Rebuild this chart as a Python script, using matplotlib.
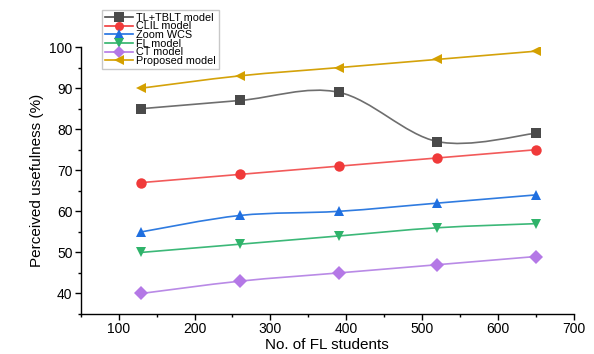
import matplotlib
matplotlib.use("Agg")
import matplotlib.pyplot as plt
from matplotlib.path import Path
from matplotlib.patches import PathPatch
from matplotlib.lines import Line2D
from matplotlib.ticker import MultipleLocator
import numpy as np

plt.rcParams["font.family"] = ["Liberation Sans", "DejaVu Sans"]

# ── data ──────────────────────────────────────────────────────────────────────
students = [130, 260, 390, 520, 650]
tl_tblt = [85, 87, 89, 77, 79]
clil = [67, 69, 71, 73, 75]
zoom_wcs = [55, 59, 60, 62, 64]
fl_model = [50, 52, 54, 56, 57]
ct_model = [40, 43, 45, 47, 49]
proposed = [90, 93, 95, 97, 99]

series = [
    ("TL+TBLT model", tl_tblt, "#4a4a4a", "#6e6e6e", "s"),
    ("CLIL model", clil, "#f03a3a", "#f25a5a", "o"),
    ("Zoom WCS", zoom_wcs, "#1f6fe0", "#2f7be0", "^"),
    ("FL model", fl_model, "#2fb36a", "#3cb878", "v"),
    ("CT model", ct_model, "#b478e6", "#b98ae6", "D"),
    ("Proposed model", proposed, "#d4a000", "#d4a20a", "<"),
]


def smooth_path(xs, ys):
    # cubic bezier segments (catmull-rom tangents) so the library draws a smooth line
    xs = np.asarray(xs, float)
    ys = np.asarray(ys, float)
    n = len(xs)
    verts = [(xs[0], ys[0])]
    codes = [Path.MOVETO]
    for i in range(n - 1):
        i0, i3 = max(i - 1, 0), min(i + 2, n - 1)
        d1 = ((xs[i + 1] - xs[i0]) / 6, (ys[i + 1] - ys[i0]) / 6)
        d2 = ((xs[i3] - xs[i]) / 6, (ys[i3] - ys[i]) / 6)
        verts += [(xs[i] + d1[0], ys[i] + d1[1]),
                  (xs[i + 1] - d2[0], ys[i + 1] - d2[1]),
                  (xs[i + 1], ys[i + 1])]
        codes += [Path.CURVE4] * 3
    return Path(verts, codes)


fig = plt.figure(figsize=(5.94, 3.54), dpi=100)
ax = fig.add_axes([0.136, 0.113, 0.830, 0.754])

handles = []
for label, vals, mcol, lcol, mk in series:
    ax.add_patch(PathPatch(smooth_path(students, vals), facecolor="none",
                           edgecolor=lcol, lw=1.2, zorder=2))
    ax.plot(students, vals, ls="none", marker=mk, ms=7.5, color=mcol,
            markeredgewidth=0, zorder=3)
    handles.append(Line2D([], [], color=mcol, lw=1.2, marker=mk, ms=6.5,
                          markeredgewidth=0, label=label))

ax.set_xlim(50, 700)
ax.set_ylim(35, 100)
ax.xaxis.set_major_locator(MultipleLocator(100))
ax.xaxis.set_minor_locator(MultipleLocator(50))
ax.yaxis.set_major_locator(MultipleLocator(10))
ax.yaxis.set_minor_locator(MultipleLocator(5))
ax.spines["top"].set_visible(False)
ax.spines["right"].set_visible(False)
for s in ("left", "bottom"):
    ax.spines[s].set_linewidth(1.0)
ax.tick_params(which="major", direction="out", length=4, width=1,
               labelsize=10, pad=2)
ax.tick_params(which="minor", direction="out", length=2, width=1)

ax.set_xlabel("No. of FL students", fontsize=11, labelpad=1)
ax.set_ylabel("Perceived usefulness (%)", fontsize=11, labelpad=4)

fig.legend(handles=handles, loc="upper left", bbox_to_anchor=(0.172, 0.972),
           fontsize=7.8, frameon=True, fancybox=False, edgecolor="#bbbbbb",
           handlelength=2.6, handletextpad=0.3, labelspacing=-0.12,
           borderpad=0.25, borderaxespad=0)

fig.savefig("out.png", dpi=100)
